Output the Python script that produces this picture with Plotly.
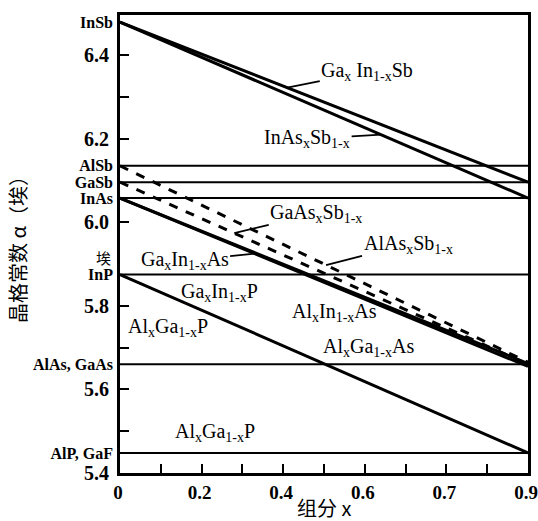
import plotly.graph_objects as go

# Binary compounds (lattice constant, Å) shown as horizontal reference lines
binary_labels = ["InSb", "AlSb", "GaSb", "InAs", "InP", "AlAs, GaAs", "AlP, GaF"]
binary_a = [6.479, 6.135, 6.096, 6.058, 5.875, 5.66, 5.448]
binary_line = [False, True, True, True, True, True, True]
unit_label = "埃"
unit_label_a = 5.915

# Ternary alloys: lattice constant at x=0 and at x=1 (axis end)
alloy_names = ["GaInSb", "InAsSb", "AlAsSb", "GaAsSb", "GaInAs", "AlInAs", "GaInP"]
alloy_a0 = [6.479, 6.479, 6.135, 6.096, 6.058, 6.058, 5.875]
alloy_a1 = [6.096, 6.058, 5.665, 5.660, 5.655, 5.662, 5.448]
alloy_dash = ["solid", "solid", "dash", "dash", "solid", "solid", "solid"]
alloy_x = [0.0, 1.0]

# Axis ticks
y_ticks = [5.4, 5.5, 5.6, 5.7, 5.8, 6.0, 6.2, 6.3, 6.4]
y_ticktext = ["5.4", "", "5.6", "", "5.8", "6.0", "6.2", "", "6.4"]
x_ticks = [0.0, 0.1, 0.2, 0.3, 0.4, 0.5, 0.6, 0.7, 0.8, 0.9, 1.0]
x_ticktext = ["0", "", "0.2", "", "0.4", "", "0.6", "", "0.7", "", "0.9"]

# Labelled curves with leader lines: (text, alloy index, x on curve, text offset px)
arrow_labels = [
    ("Ga<sub>x</sub> In<sub>1-x</sub>Sb", 0, 0.41, 80, -16),
    ("InAs<sub>x</sub>Sb<sub>1-x</sub>", 1, 0.64, -74, 4),
    ("GaAs<sub>x</sub>Sb<sub>1-x</sub>", 3, 0.28, 82, -20),
    ("AlAs<sub>x</sub>Sb<sub>1-x</sub>", 2, 0.505, 82, -21),
    ("Ga<sub>x</sub>In<sub>1-x</sub>As", 4, 0.33, -70, 7),
]
# Free labels: (text, x, y)
free_labels = [
    ("Ga<sub>x</sub>In<sub>1-x</sub>P", 0.245, 5.833),
    ("Al<sub>x</sub>In<sub>1-x</sub>As", 0.525, 5.785),
    ("Al<sub>x</sub>Ga<sub>1-x</sub>P", 0.117, 5.749),
    ("Al<sub>x</sub>Ga<sub>1-x</sub>As", 0.61, 5.701),
    ("Al<sub>x</sub>Ga<sub>1-x</sub>P", 0.234, 5.496),
]

SERIF = "Liberation Serif, DejaVu Serif, Noto Sans CJK SC, serif"
CJK = "Noto Sans CJK SC, sans-serif"

fig = go.Figure()

for name, a, has_line in zip(binary_labels, binary_a, binary_line):
    if has_line:
        fig.add_trace(go.Scatter(x=alloy_x, y=[a, a], mode="lines",
                                 line=dict(color="black", width=2),
                                 hoverinfo="skip", showlegend=False))

for name, a0, a1, d in zip(alloy_names, alloy_a0, alloy_a1, alloy_dash):
    fig.add_trace(go.Scatter(x=alloy_x, y=[a0, a1], mode="lines",
                             line=dict(color="black", width=3, dash=d),
                             name=name, hoverinfo="skip", showlegend=False))

# invisible trace on the overlay axis to make it render
fig.add_trace(go.Scatter(x=[0], y=[5.4], yaxis="y2", mode="markers",
                         marker=dict(opacity=0), hoverinfo="skip", showlegend=False))

for text, idx, xc, axp, ayp in arrow_labels:
    yc = alloy_a0[idx] + (alloy_a1[idx] - alloy_a0[idx]) * xc
    fig.add_annotation(x=xc, y=yc, text=text, showarrow=True, arrowhead=0,
                       arrowwidth=1.8, arrowcolor="black", ax=axp, ay=ayp,
                       font=dict(family=SERIF, size=20, color="black"))

for text, xl, yl in free_labels:
    fig.add_annotation(x=xl, y=yl, text=text, showarrow=False,
                       font=dict(family=SERIF, size=20, color="black"))

# unit label above InP
fig.add_annotation(xref="paper", x=-0.017, xanchor="right", y=unit_label_a,
                   yanchor="middle", text=unit_label, showarrow=False,
                   font=dict(family=CJK, size=15, color="black"))

# axis titles
fig.add_annotation(xref="paper", yref="paper", x=-0.25, y=0.498,
                   xanchor="center", yanchor="middle",
                   text="晶格常数 α（埃）", textangle=-90, showarrow=False,
                   font=dict(family=CJK, size=20, color="black"))
fig.add_annotation(xref="paper", yref="paper", x=0.5, y=-0.075,
                   xanchor="center", yanchor="middle",
                   text="组分 x", showarrow=False,
                   font=dict(family=CJK, size=20, color="black"))

fig.update_layout(
    width=538, height=521,
    margin=dict(l=120, r=10, t=15, b=48),
    plot_bgcolor="white", paper_bgcolor="white",
    xaxis=dict(range=[0, 1], tickvals=x_ticks, ticktext=x_ticktext,
               ticks="inside", ticklen=9, tickwidth=2, tickcolor="black",
               showgrid=False, zeroline=False, showline=True, linewidth=3,
               linecolor="black", mirror=True, automargin=False,
               ticklabeloverflow="allow", ticklabelshift=-2,
               tickfont=dict(family=SERIF, size=19, color="black", weight="bold")),
    yaxis=dict(range=[5.4, 6.496], tickvals=y_ticks, ticktext=y_ticktext,
               ticks="inside", ticklen=9, tickwidth=2, tickcolor="black",
               showgrid=False, zeroline=False, showline=True, linewidth=3,
               linecolor="black", mirror=True, automargin=False,
               ticklabelstandoff=4,
               tickfont=dict(family=SERIF, size=20, color="black", weight="bold")),
    yaxis2=dict(range=[5.4, 6.496], overlaying="y", side="left",
                tickvals=binary_a, ticktext=binary_labels, ticks="",
                showgrid=False, zeroline=False, showline=False, automargin=False,
                ticklabelstandoff=6,
                tickfont=dict(family=SERIF, size=16, color="black", weight="bold")),
)

fig.write_html("out.html")
